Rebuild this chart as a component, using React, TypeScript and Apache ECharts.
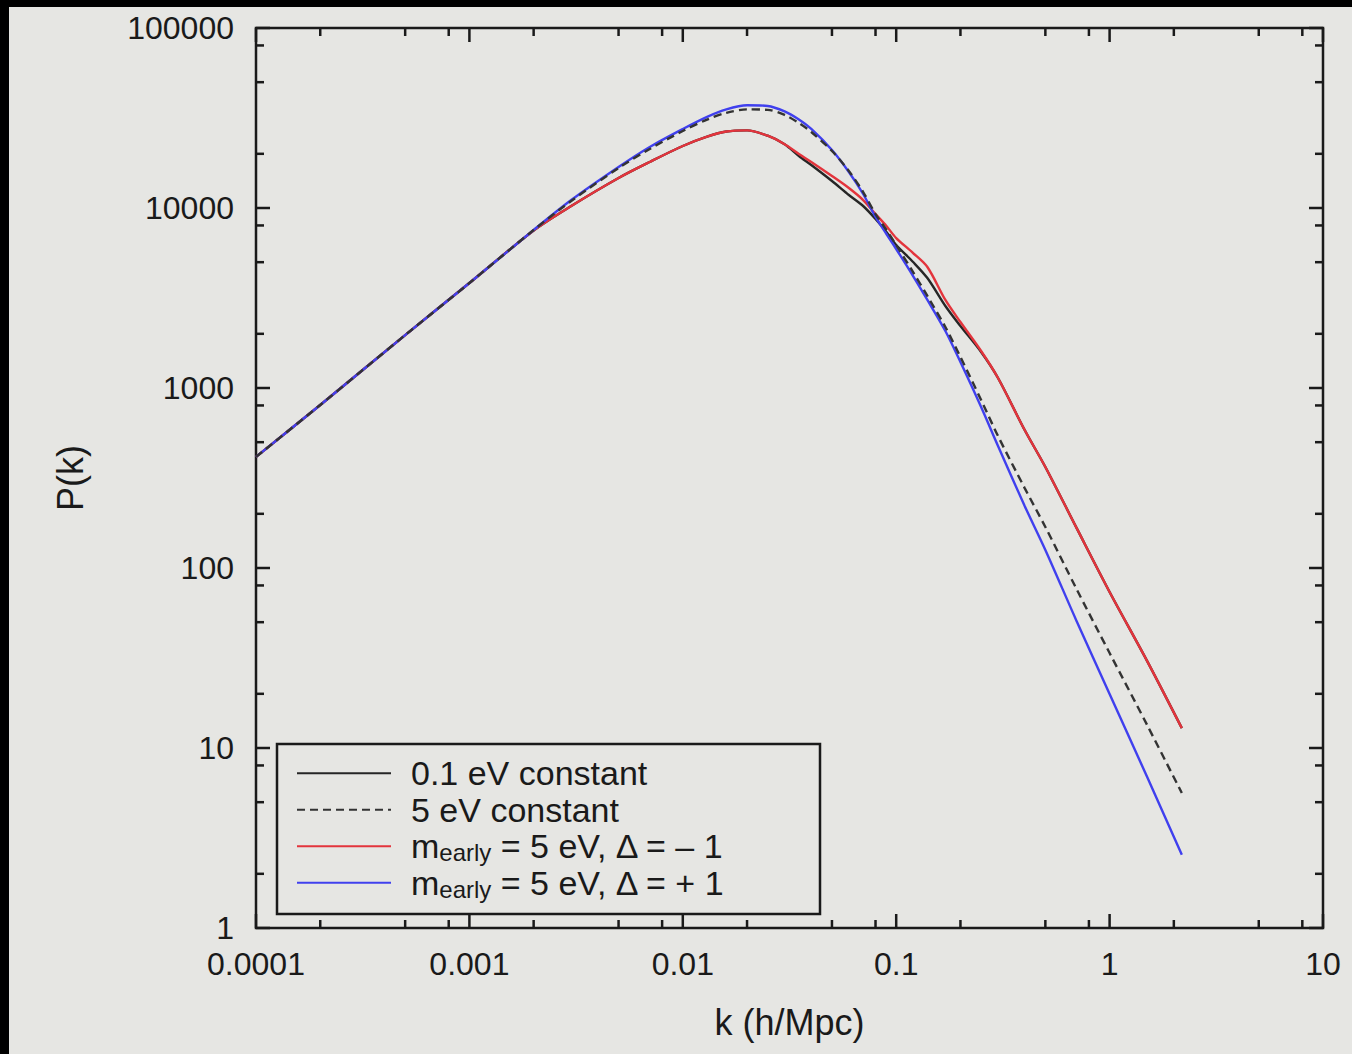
import React, { useEffect, useRef } from "react";
import * as echarts from "echarts";

// ---- data ----
const kValues = [
  0.0001, 0.0002, 0.0005, 0.001, 0.002, 0.003, 0.005, 0.007, 0.01, 0.013, 0.016, 0.02,
  0.025, 0.03, 0.035, 0.04, 0.05, 0.06, 0.07, 0.08, 0.09, 0.1, 0.12, 0.14, 0.17, 0.2,
  0.25, 0.3, 0.4, 0.5, 0.7, 1, 1.5, 2.18,
];

const pConst01 = [
  414, 805, 1968, 3830, 7500, 10260, 14680, 18020, 22100, 24900, 26600, 27000,
  25200, 22600, 19450, 17330, 14120, 11810, 10260, 8690, 7360, 6225, 5010, 4080, 2855, 2210,
  1585, 1136, 584, 364, 167, 73.6, 30.4, 12.9,
];

const pConst5 = [
  414, 805, 1968, 3830, 7550, 10940, 16680, 21280, 26790, 31000, 33800, 35300,
  35100, 32900, 29650, 26450, 20730, 16060, 12270, 9260, 7550, 6225, 4406, 3245, 2183, 1487,
  858, 541, 278, 169, 76.4, 33.7, 13.4, 5.62,
];

const pEarlyMinus = [
  414, 805, 1968, 3830, 7500, 10260, 14680, 18020, 22100, 24900, 26600, 27000,
  25200, 22600, 19950, 18020, 15060, 12910, 11070, 9260, 7940, 6810, 5620, 4700, 3085, 2325,
  1605, 1136, 584, 364, 167, 73.6, 30.4, 12.9,
];

const pEarlyPlus = [
  414, 805, 1968, 3830, 7550, 11070, 16900, 21830, 27480, 32100, 35300, 37200,
  36900, 34400, 31000, 27500, 21000, 15850, 11960, 8920, 7170, 5920, 4190, 3085, 2073, 1394,
  784, 476, 221, 126, 50.8, 19.95, 6.9, 2.55,
];

const seriesNames = [
  "0.1 eV constant",
  "5 eV constant",
  "m_early = 5 eV, Δ = – 1",
  "m_early = 5 eV, Δ = + 1",
];

const xTickLabels = ["0.0001", "0.001", "0.01", "0.1", "1", "10"];
const yTickLabels = ["1", "10", "100", "1000", "10000", "100000"];
const xMajorTicks = [0.0001, 0.001, 0.01, 0.1, 1, 10];
const xMinorTicks = [
  0.0002, 0.0005, 0.0008, 0.002, 0.005, 0.008, 0.02, 0.05, 0.08, 0.2, 0.5, 0.8, 2, 5, 8,
];
const yMajorTicks = [1, 10, 100, 1000, 10000, 100000];
const yMinorTicks = [
  2, 5, 8, 20, 50, 80, 200, 500, 800, 2000, 5000, 8000, 20000, 50000, 80000,
];

const xAxisTitle = "k (h/Mpc)";
const yAxisTitle = "P(k)";

// ---- styles ----
const FONT = "'Liberation Sans', Arial, Helvetica, sans-serif";
const INK = "#1a1a1a";
const BG = "#e6e6e3";
const X_MIN = 0.0001;
const X_MAX = 10;
const Y_MIN = 1;
const Y_MAX = 100000;
const MAJOR_LEN = 14;
const MINOR_LEN = 8;
const TICK_FONT = 32;
const TITLE_FONT = 36;
const LEGEND_FONT = 34;

function labelFor(ticks: number[], labels: string[], v: number): string {
  const i = ticks.findIndex((t) => Math.abs(Math.log10(t) - Math.log10(v)) < 1e-6);
  return i >= 0 ? labels[i] : "";
}

function buildOption(): any {
  const tickData: number[][] = [];
  xMajorTicks.forEach((v) => tickData.push([v, Y_MIN, MAJOR_LEN, 0]));
  xMinorTicks.forEach((v) => tickData.push([v, Y_MIN, MINOR_LEN, 0]));
  yMajorTicks.forEach((v) => tickData.push([X_MIN, v, MAJOR_LEN, 1]));
  yMinorTicks.forEach((v) => tickData.push([X_MIN, v, MINOR_LEN, 1]));

  const tickStyle = { stroke: INK, lineWidth: 2.5 };

  const lineSeries = (name: string, values: number[], color: string, type: any, z: number) => ({
    name,
    type: "line",
    data: kValues.map((k, i) => [k, values[i]]),
    symbol: "none",
    showSymbol: false,
    smooth: 0.3,
    z,
    lineStyle: { color, width: 2.4, type },
    itemStyle: { color },
  });

  return {
    animation: false,
    backgroundColor: BG,
    textStyle: { fontFamily: FONT, color: INK },
    grid: {
      left: 247,
      top: 21,
      right: 29,
      bottom: 126,
      show: true,
      borderColor: INK,
      borderWidth: 2.5,
      backgroundColor: "transparent",
    },
    xAxis: {
      type: "log",
      logBase: 10,
      min: X_MIN,
      max: X_MAX,
      axisLine: { show: false },
      axisTick: { show: false },
      splitLine: { show: false },
      minorTick: { show: false },
      axisLabel: {
        show: true,
        interval: 0,
        showMinLabel: true,
        showMaxLabel: true,
        margin: 20,
        fontSize: TICK_FONT,
        fontFamily: FONT,
        color: INK,
        formatter: (v: number) => labelFor(xMajorTicks, xTickLabels, v),
      },
      name: xAxisTitle,
      nameLocation: "middle",
      nameGap: 76,
      nameTextStyle: { fontSize: TITLE_FONT, fontFamily: FONT, color: INK },
    },
    yAxis: {
      type: "log",
      logBase: 10,
      min: Y_MIN,
      max: Y_MAX,
      axisLine: { show: false },
      axisTick: { show: false },
      splitLine: { show: false },
      minorTick: { show: false },
      axisLabel: {
        show: true,
        interval: 0,
        showMinLabel: true,
        showMaxLabel: true,
        margin: 22,
        fontSize: TICK_FONT,
        fontFamily: FONT,
        color: INK,
        formatter: (v: number) => labelFor(yMajorTicks, yTickLabels, v),
      },
      name: yAxisTitle,
      nameLocation: "middle",
      nameGap: 168,
      nameTextStyle: { fontSize: TITLE_FONT, fontFamily: FONT, color: INK },
    },
    legend: {
      data: seriesNames,
      orient: "vertical",
      left: 287,
      top: 748,
      padding: 0,
      itemGap: 0,
      itemWidth: 94,
      itemHeight: 1,
      itemStyle: { opacity: 0 },
      selectedMode: false,
      textStyle: {
        fontSize: LEGEND_FONT,
        fontFamily: FONT,
        color: INK,
        lineHeight: 36.5,
        padding: [0, 0, 0, 15],
        rich: {
          m: { fontSize: LEGEND_FONT, lineHeight: 36.5, fontFamily: FONT, color: INK },
          s: { fontSize: 24, lineHeight: 12, verticalAlign: "bottom", fontFamily: FONT, color: INK },
          t: { fontSize: LEGEND_FONT, lineHeight: 36.5, fontFamily: FONT, color: INK },
        },
      },
      formatter: (name: string) =>
        name.startsWith("m_early") ? `{m|m}{s|early}{t|${name.slice(7)}}` : name,
    },
    graphic: [
      {
        type: "rect",
        z: 10,
        shape: { x: 268, y: 737, width: 543, height: 170 },
        style: { fill: "none", stroke: INK, lineWidth: 2.5 },
        silent: true,
      },
    ],
    series: [
      lineSeries(seriesNames[0], pConst01, "#262626", "solid", 2),
      lineSeries(seriesNames[2], pEarlyMinus, "#e3343c", "solid", 3),
      lineSeries(seriesNames[3], pEarlyPlus, "#4040ee", "solid", 4),
      lineSeries(seriesNames[1], pConst5, "#333333", [8, 5], 5),
      {
        name: "ticks",
        type: "custom",
        data: tickData,
        clip: false,
        silent: true,
        z: 6,
        renderItem: (_params: any, api: any) => {
          const len = api.value(2);
          const kind = api.value(3);
          if (kind === 0) {
            const v = api.value(0);
            const pB = api.coord([v, Y_MIN]);
            const pT = api.coord([v, Y_MAX]);
            return {
              type: "group",
              children: [
                { type: "line", shape: { x1: pB[0], y1: pB[1], x2: pB[0], y2: pB[1] - len }, style: tickStyle },
                { type: "line", shape: { x1: pT[0], y1: pT[1], x2: pT[0], y2: pT[1] + len }, style: tickStyle },
              ],
            };
          }
          const v = api.value(1);
          const pL = api.coord([X_MIN, v]);
          const pR = api.coord([X_MAX, v]);
          return {
            type: "group",
            children: [
              { type: "line", shape: { x1: pL[0], y1: pL[1], x2: pL[0] + len, y2: pL[1] }, style: tickStyle },
              { type: "line", shape: { x1: pR[0], y1: pR[1], x2: pR[0] - len, y2: pR[1] }, style: tickStyle },
            ],
          };
        },
      },
    ],
  };
}

export default function App() {
  const ref = useRef<HTMLDivElement>(null);
  useEffect(() => {
    if (!ref.current) return;
    const chart = echarts.init(ref.current, null, { renderer: "svg" });
    chart.setOption(buildOption());
    return () => chart.dispose();
  }, []);
  return (
    <div
      style={{
        position: "fixed",
        left: 0,
        top: 0,
        width: 1352,
        height: 1054,
        background: "#000",
        overflow: "hidden",
      }}
    >
      <div
        ref={ref}
        style={{ position: "absolute", left: 9, top: 7, width: 1343, height: 1047, background: BG }}
      />
    </div>
  );
}
